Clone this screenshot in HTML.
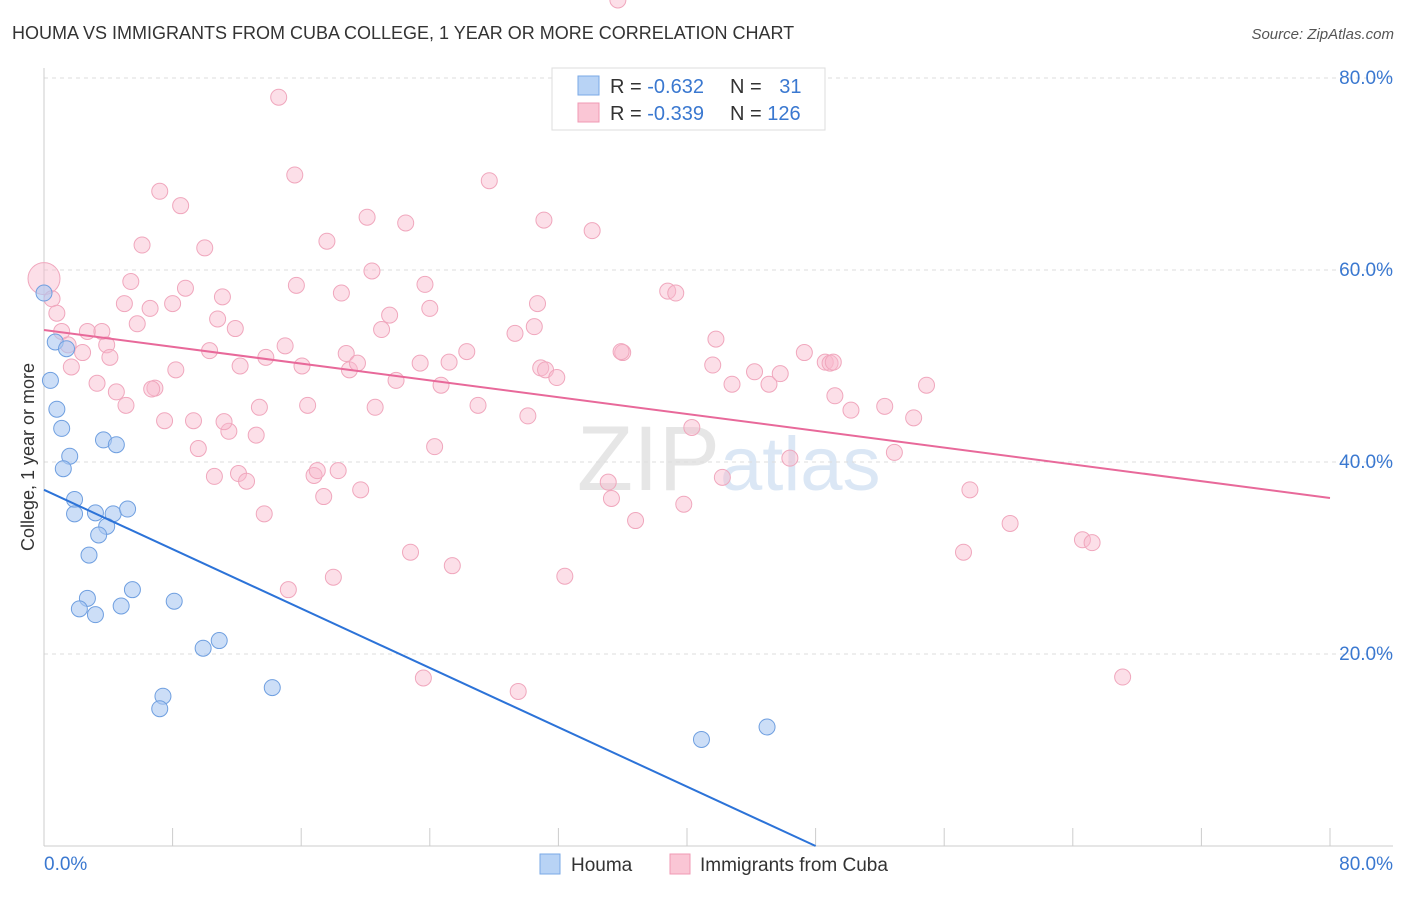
<!DOCTYPE html>
<html><head><meta charset="utf-8">
<style>
body{margin:0;background:#fff;font-family:"Liberation Sans",sans-serif;}
svg text{font-family:"Liberation Sans",sans-serif;}
</style></head>
<body>
<svg id="chart" width="1406" height="892">
<text x="12" y="39" font-size="18" fill="#333">HOUMA VS IMMIGRANTS FROM CUBA COLLEGE, 1 YEAR OR MORE CORRELATION CHART</text>
<text x="1394" y="39" font-size="15" fill="#555" text-anchor="end" font-style="italic">Source: ZipAtlas.com</text>
<text x="720" y="490" font-size="92" fill="#e6e6e6" text-anchor="end" font-family="Liberation Serif">ZIP</text>
<text x="720" y="490" font-size="76" fill="#dbe7f5">atlas</text>
<g id="grid"></g>
<g id="axes"></g>
<g id="pts"></g>
<g id="trend"></g>
<text transform="translate(34,457) rotate(-90)" font-size="18" fill="#333" text-anchor="middle">College, 1 year or more</text>
<g>
<rect x="552" y="68" width="273" height="62" fill="#fff" stroke="#ddd"/>
<rect x="578" y="76" width="21" height="19" fill="#b8d3f5" stroke="#7aa8e6"/>
<rect x="578" y="103" width="21" height="19" fill="#fac6d5" stroke="#f09ab4"/>
<text x="610" y="93" font-size="20" fill="#333">R = <tspan fill="#3a78d0">-0.632</tspan></text>
<text x="730" y="93" font-size="20" fill="#333">N = <tspan fill="#3a78d0" dx="12">31</tspan></text>
<text x="610" y="120" font-size="20" fill="#333">R = <tspan fill="#3a78d0">-0.339</tspan></text>
<text x="730" y="120" font-size="20" fill="#333">N = <tspan fill="#3a78d0">126</tspan></text>
</g>
<g>
<rect x="540" y="854" width="20" height="20" fill="#b8d3f5" stroke="#7aa8e6"/>
<text x="571" y="871" font-size="19" fill="#333">Houma</text>
<rect x="670" y="854" width="20" height="20" fill="#fac6d5" stroke="#f09ab4"/>
<text x="700" y="871" font-size="19" fill="#333">Immigrants from Cuba</text>
</g>
</svg>
<script>
const yTicks=[20,40,60,80];
const xTickLabels=["0.0%","80.0%"];
const houmaX=[0,0.7,1.4,0.4,0.8,1.1,1.6,1.2,1.9,1.9,3.2,4.3,5.2,3.9,3.4,2.8,3.7,4.5,2.7,2.2,3.2,4.8,5.5,8.1,9.9,10.9,7.4,7.2,14.2,40.9,44.98];
const houmaY=[57.6,52.5,51.8,48.5,45.5,43.5,40.6,39.3,36.1,34.6,34.7,34.6,35.1,33.3,32.4,30.3,42.3,41.8,25.8,24.7,24.1,25,26.7,25.5,20.6,21.4,15.6,14.3,16.5,11.1,12.4];
const cubaX=[0,0.5,0.8,1.1,1.5,1.7,2.4,3.3,2.7,3.6,3.9,4.1,4.5,5.1,5,5.4,5.8,6.1,6.6,6.9,7.2,7.5,8,8.2,8.5,8.8,9.3,9.6,10,10.3,10.8,11.1,11.5,11.9,12.2,10.6,12.1,12.6,13.2,13.4,13.8,13.7,14.6,15,15.2,15.6,15.7,16.05,16.4,16.8,17,17.4,17.6,18,18.3,18.5,18.8,19,19.5,19.7,20.1,20.4,20.6,21,21.5,21.9,22.5,22.8,23.4,23.7,24,24.3,24.7,25.2,25.4,26.3,27,29.3,27.7,30.1,30.5,30.7,31.1,30.9,31.2,31.9,32.4,34.1,35.1,36,35.9,35.3,36.8,38.8,39.3,39.8,41.8,40.3,45.8,42.2,41.6,42.8,44.2,45.1,47.3,46.4,48.6,48.9,49.1,49.2,50.2,52.3,52.9,54.1,54.9,57.6,60.1,64.6,65.2,67.1,23.6,29.5,57.2,11.2,6.7,35.7];
const cubaY=[59.1,57,55.5,53.6,52.2,49.9,51.4,48.2,53.6,53.6,52.2,50.9,47.3,45.9,56.5,58.8,54.4,62.6,56,47.7,68.2,44.3,56.5,49.6,66.7,58.1,44.3,41.4,62.3,51.6,54.9,57.2,43.2,53.9,50,38.5,38.8,38,42.8,45.7,50.9,34.6,78.0,52.1,26.7,69.9,58.4,50,45.9,38.6,39.1,36.4,63,28,39.1,57.6,51.3,49.6,50.3,37.1,65.5,59.9,45.7,53.8,55.3,48.5,64.9,30.6,50.3,58.5,56,41.6,48,50.4,29.2,51.5,45.9,53.4,69.3,44.8,54.1,56.5,65.2,49.8,49.6,48.8,28.1,64.1,37.9,51.4,51.5,36.2,33.9,57.8,57.6,35.6,52.8,43.6,49.2,38.4,50.1,48.1,49.4,48.1,51.4,40.4,50.4,50.3,50.4,46.9,45.4,45.8,41,44.6,48,37.1,33.6,31.9,31.6,17.6,17.5,16.1,30.6,44.2,47.6];
const houmaTrend=[[0,37.1],[48,0]];
const cubaTrend=[[0,53.75],[80,36.25]];
const sx=v=>44+v*16.075, sy=v=>846-v*9.6;
const NS="http://www.w3.org/2000/svg";
function mk(p,tag,at){const e=document.createElementNS(NS,tag);for(const k in at)e.setAttribute(k,at[k]);p.appendChild(e);return e;}
const grid=document.getElementById('grid'),axes=document.getElementById('axes'),pts=document.getElementById('pts'),tr=document.getElementById('trend');
yTicks.forEach(t=>{
 const l=mk(grid,'line',{x1:44,x2:1393,y1:sy(t),y2:sy(t),stroke:'#ddd','stroke-dasharray':'4,4'});
 
 
 const tx=mk(grid,'text',{x:1393,y:sy(t)+6,'font-size':19,fill:'#3a78d0','text-anchor':'end'});
 tx.textContent=t.toFixed(1)+'%';
 
 
});
mk(axes,'line',{x1:44,x2:44,y1:68,y2:846,stroke:'#ccc'});
mk(axes,'line',{x1:44,x2:1393,y1:846,y2:846,stroke:'#ccc'});
for(let i=0;i<=10;i++){mk(axes,'line',{x1:sx(i*8),x2:sx(i*8),y1:828,y2:846,stroke:'#ccc'});}
const xl0=mk(axes,'text',{x:44,y:870,'font-size':19,fill:'#3a78d0'});xl0.textContent=xTickLabels[0];


const xl1=mk(axes,'text',{x:1393,y:870,'font-size':19,fill:'#3a78d0','text-anchor':'end'});xl1.textContent=xTickLabels[1];


cubaX.forEach((x,i)=>{
 const c=mk(pts,'circle',{cx:sx(x),cy:sy(cubaY[i]),r:i===0?16:8,fill:'rgba(249,185,205,0.45)',stroke:'#f0a7bd','stroke-width':1});
 
 
});
houmaX.forEach((x,i)=>{
 const c=mk(pts,'circle',{cx:sx(x),cy:sy(houmaY[i]),r:8,fill:'rgba(170,200,242,0.6)',stroke:'#6f9fe0','stroke-width':1});
 
 
});
const l1=mk(tr,'line',{x1:sx(houmaTrend[0][0]),y1:sy(houmaTrend[0][1]),x2:sx(houmaTrend[1][0]),y2:sy(houmaTrend[1][1]),stroke:'#2c73d8','stroke-width':2});


const l2=mk(tr,'line',{x1:sx(cubaTrend[0][0]),y1:sy(cubaTrend[0][1]),x2:sx(cubaTrend[1][0]),y2:sy(cubaTrend[1][1]),stroke:'#e8699a','stroke-width':2});


</script>
</body></html>
